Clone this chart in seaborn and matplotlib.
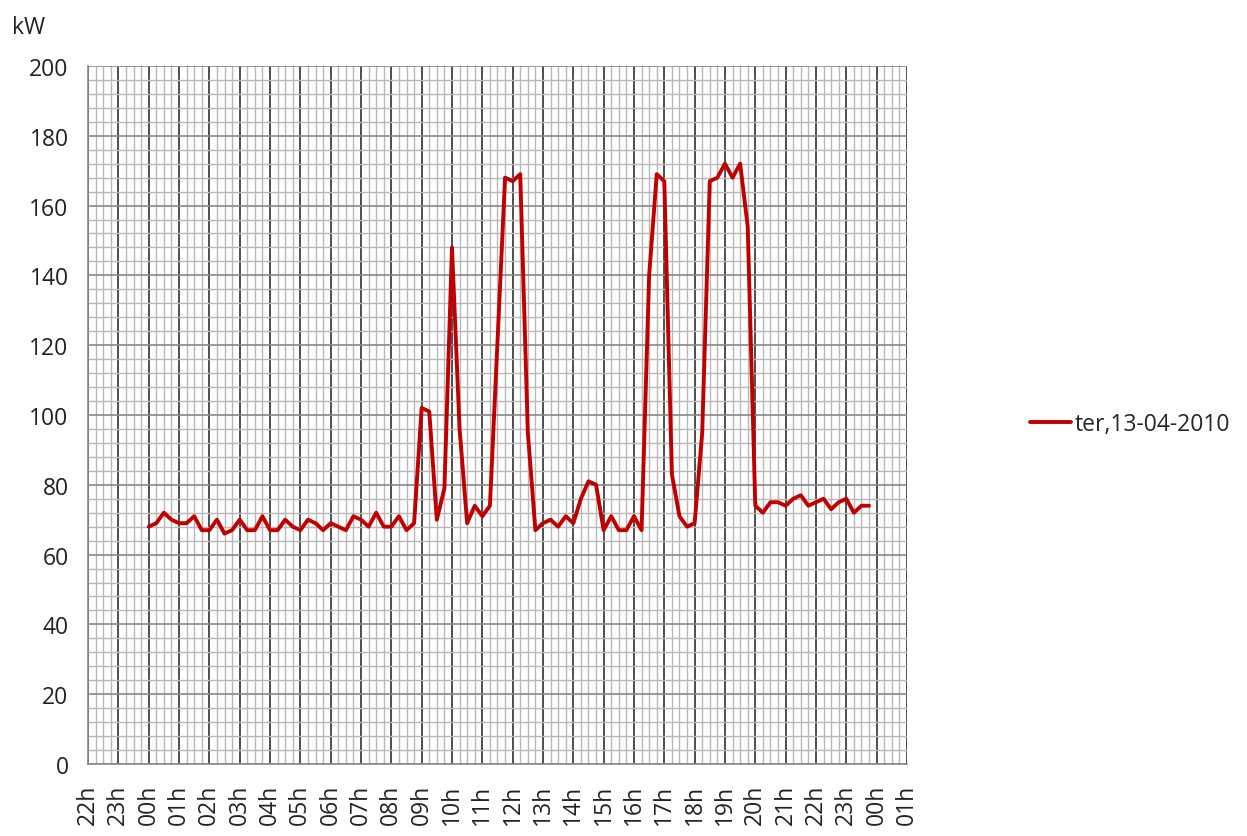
import pandas as pd
import seaborn as sns
import matplotlib.pyplot as plt
import matplotlib.dates as mdates
from matplotlib.ticker import MultipleLocator

# 15-min power readings, 13-04-2010
kw = [68, 69, 72, 70, 69, 69, 71, 67, 67, 70, 66, 67, 70, 67, 67, 71,
      67, 67, 70, 68, 67, 70, 69, 67, 69, 68, 67, 71, 70, 68, 72, 68,
      68, 71, 67, 69, 102, 101, 70, 79, 148, 96, 69, 74, 71, 74, 121, 168,
      167, 169, 95, 67, 69, 70, 68, 71, 69, 76, 81, 80, 67, 71, 67, 67,
      71, 67, 140, 169, 167, 83, 71, 68, 69, 95, 167, 168, 172, 168, 172, 154,
      74, 72, 75, 75, 74, 76, 77, 74, 75, 76, 73, 75, 76, 72, 74, 74]
times = pd.date_range('2010-04-13 00:00', periods=len(kw), freq='15min')
serie = 'ter,13-04-2010'

df = pd.DataFrame({'time': times, 'kW': kw, 'dia': serie})

sns.set_style('white')
plt.rcParams['font.family'] = ['Open Sans', 'DejaVu Sans']

fig = plt.figure(figsize=(12.47, 8.37), dpi=100)
ax = fig.add_axes([0.0706, 0.086, 0.6567, 0.834])

sns.lineplot(data=df, x='time', y='kW', hue='dia', palette=['#c00000'],
             linewidth=2.8, ax=ax)

ax.set_xlim(pd.Timestamp('2010-04-12 22:00'), pd.Timestamp('2010-04-14 01:00'))
ax.set_ylim(0, 200)

ax.xaxis.set_major_locator(mdates.HourLocator())
ax.xaxis.set_major_formatter(mdates.DateFormatter('%Hh'))
ax.xaxis.set_minor_locator(mdates.MinuteLocator(byminute=[15, 30, 45]))
ax.yaxis.set_major_locator(MultipleLocator(20))
ax.yaxis.set_minor_locator(MultipleLocator(4))

ax.grid(which='minor', axis='both', color='#b8b8b8', linewidth=1.0)
ax.grid(which='major', axis='x', color='#303030', linewidth=1.2)
ax.grid(which='major', axis='y', color='#888888', linewidth=1.2)
ax.set_axisbelow(True)

for s in ['top', 'right']:
    ax.spines[s].set_visible(False)
for s in ['left', 'bottom']:
    ax.spines[s].set_color('#888888')
    ax.spines[s].set_linewidth(1.2)

ax.tick_params(axis='both', which='major', direction='out', length=8,
               color='#888888', width=1.0, labelsize=16.5, labelcolor='#222222')
ax.tick_params(axis='both', which='minor', length=0)
ax.tick_params(axis='x', labelrotation=90, pad=6)
ax.tick_params(axis='y', pad=6)

ax.set_xlabel('')
ax.set_ylabel('')
fig.text(0.010, 0.967, 'kW', fontsize=16.5, color='#222222', va='center')

ax.legend(loc='center left', bbox_to_anchor=(1.125, 0.487), frameon=False,
          fontsize=16.5, handlelength=1.8, handletextpad=0.15)

plt.savefig('out.png', dpi=100)
